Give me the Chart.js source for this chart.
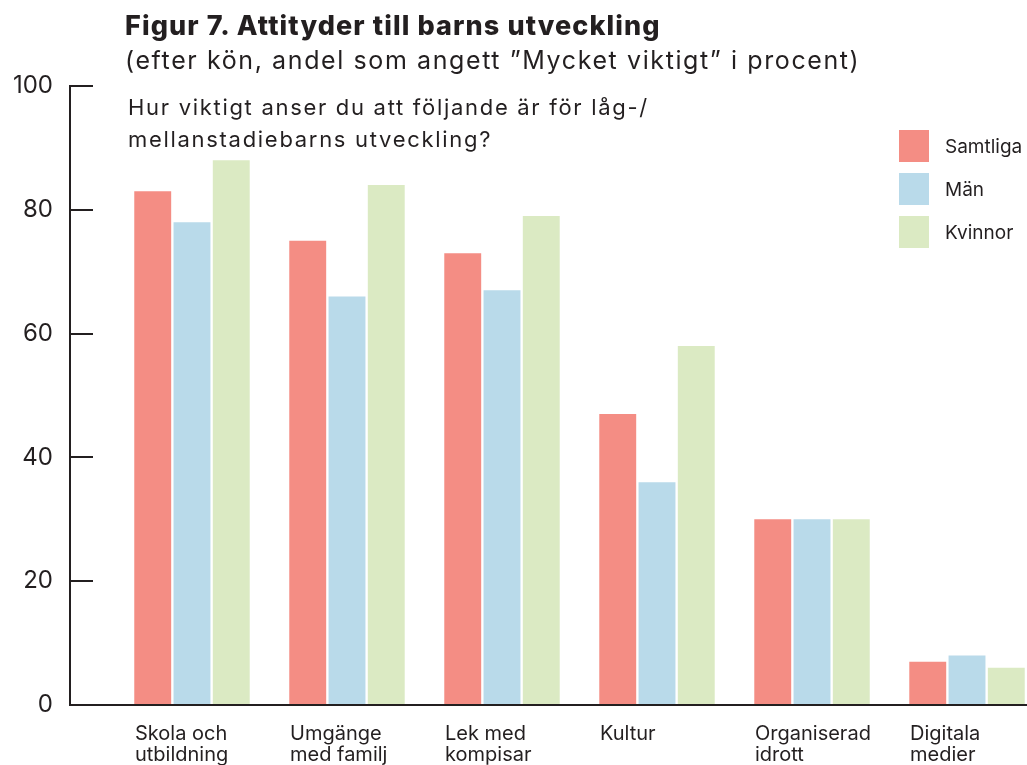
<!DOCTYPE html>
<html lang="sv">
<head>
<meta charset="utf-8">
<title>Figur 7. Attityder till barns utveckling</title>
<script src="https://cdn.jsdelivr.net/npm/chart.js@4.4.1/dist/chart.umd.min.js"></script>
<style>
  html, body { margin: 0; padding: 0; background: #fff; }
  #wrap { position: relative; width: 1027px; height: 765px; overflow: hidden;
          font-family: Inter, "Liberation Sans", sans-serif; color: #231f20; }
  #wrap canvas { position: absolute; left: 0; top: 0; }
  .title { position: absolute; left: 125px; top: 11px; font-size: 27px; font-weight: 800;
           letter-spacing: 1.1px; line-height: 30px; white-space: nowrap; }
  .subtitle { position: absolute; left: 125px; top: 45px; font-size: 25px; letter-spacing: 1.6px;
              line-height: 30px; white-space: nowrap; }
  .question { position: absolute; left: 128px; top: 91px; font-size: 22px; letter-spacing: 1.7px;
              line-height: 32px; white-space: nowrap; }
  #legend { position: absolute; left: 899px; top: 130px; }
  #legend .item { display: flex; align-items: center; height: 32px; margin-bottom: 11px;
                  font-size: 19px; }
  #legend .box { width: 30px; height: 32px; margin-right: 16px; }
</style>
</head>
<body>
<div id="wrap">
  <canvas id="chart" width="1027" height="765"></canvas>
  <div class="title">Figur 7. Attityder till barns utveckling</div>
  <div class="subtitle">(efter kön, andel som angett ”Mycket viktigt” i procent)</div>
  <div class="question">Hur viktigt anser du att följande är för låg-/<br>mellanstadiebarns utveckling?</div>
  <div id="legend"></div>
</div>
<script>
// data (percent answering "Mycket viktigt")
const categories = [
  ['Skola och', 'utbildning'],
  ['Umgänge', 'med familj'],
  ['Lek med', 'kompisar'],
  ['Kultur'],
  ['Organiserad', 'idrott'],
  ['Digitala', 'medier']
];
const seriesNames = ['Samtliga', 'Män', 'Kvinnor'];
const samtliga = [83, 75, 73, 47, 30, 7];
const man = [78, 66, 67, 36, 30, 8];
const kvinnor = [88, 84, 79, 58, 30, 6];
const yTicks = [0, 20, 40, 60, 80, 100];

const colors = ['#f48d84', '#b9daea', '#dbeac3'];
const ink = '#231f20';

Chart.defaults.font.family = 'Inter, "Liberation Sans", sans-serif';
Chart.defaults.color = ink;

const toPoints = vals => vals.map((v, i) => ({ x: i, y: v }));

const chart = new Chart(document.getElementById('chart'), {
  type: 'bar',
  data: {
    datasets: [samtliga, man, kvinnor].map((vals, i) => ({
      label: seriesNames[i],
      data: toPoints(vals),
      backgroundColor: colors[i],
      borderWidth: 0,
      categoryPercentage: 0.76,
      barPercentage: 0.94
    }))
  },
  options: {
    responsive: false,
    animation: false,
    devicePixelRatio: 1,
    layout: { padding: { top: 86, left: 0, right: 0, bottom: 0 } },
    plugins: {
      legend: { display: false },
      tooltip: { enabled: false }
    },
    scales: {
      x: {
        type: 'linear',
        bounds: 'data',
        offset: false,
        min: -0.787,
        max: 5.387,
        grid: { display: false, offset: false, drawTicks: false },
        border: { display: true, color: ink, width: 2 },
        afterBuildTicks: s => { s.ticks = categories.map((c, i) => ({ value: i })); },
        afterFit: s => { s.height = 60; s.paddingLeft = 0; s.paddingRight = 0; },
        ticks: {
          autoSkip: false,
          maxRotation: 0,
          align: 'start',
          labelOffset: -57,
          padding: 18,
          font: { size: 20, lineHeight: 1.05 },
          color: ink,
          callback: v => categories[v] || ''
        }
      },
      y: {
        min: 0,
        max: 100,
        afterBuildTicks: s => { s.ticks = yTicks.map(v => ({ value: v })); },
        afterFit: s => { s.width = 70; },
        grid: { drawOnChartArea: false, drawTicks: true, tickLength: -23, color: ink, lineWidth: 2 },
        border: { display: true, color: ink, width: 2 },
        ticks: { padding: 40, font: { size: 24 }, color: ink }
      }
    }
  }
});

// legend built from the chart's own datasets
const legend = document.getElementById('legend');
chart.data.datasets.forEach(ds => {
  const item = document.createElement('div');
  item.className = 'item';
  const box = document.createElement('span');
  box.className = 'box';
  box.style.background = ds.backgroundColor;
  const txt = document.createElement('span');
  txt.textContent = ds.label;
  item.appendChild(box);
  item.appendChild(txt);
  legend.appendChild(item);
});
</script>
</body>
</html>
